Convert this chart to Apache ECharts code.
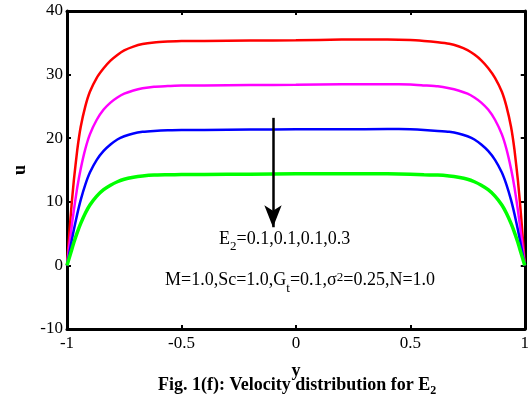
<!DOCTYPE html>
<html>
<head>
<meta charset="utf-8">
<script src="https://cdn.jsdelivr.net/npm/echarts@6/dist/echarts.min.js"></script>
<style>html,body{margin:0;padding:0;background:#fff}#c{width:532px;height:394px}</style>
</head>
<body>
<div id="c"></div>
<script>
var yPos = [-1, -0.99, -0.98, -0.97, -0.955, -0.94, -0.92, -0.9, -0.87, -0.84, -0.81, -0.78, -0.75, -0.71, -0.67, -0.62, -0.56, -0.5, -0.4, -0.2, 0,
            0.2, 0.4, 0.5, 0.56, 0.62, 0.67, 0.71, 0.75, 0.78, 0.81, 0.84, 0.87, 0.9, 0.92, 0.94, 0.955, 0.97, 0.98, 0.99, 1];
var uRed = [0, 5.0, 9.5, 13.4, 18.2, 21.8, 25.0, 27.3, 29.5, 31.0, 32.2, 33.1, 33.8, 34.4, 34.8, 35.05, 35.2, 35.3, 35.3, 35.35, 35.4,
            35.5, 35.5, 35.45, 35.3, 35.1, 34.85, 34.45, 33.85, 33.15, 32.25, 31.05, 29.5, 27.3, 25.0, 21.8, 18.2, 13.4, 9.5, 5.0, 0];
var uMagenta = [0, 3.1, 6.0, 8.7, 12.3, 15.2, 18.3, 20.6, 22.9, 24.5, 25.6, 26.4, 27.0, 27.5, 27.85, 28.1, 28.2, 28.3, 28.3, 28.35, 28.4,
                28.5, 28.5, 28.45, 28.3, 28.15, 27.85, 27.5, 27.0, 26.4, 25.6, 24.5, 22.9, 20.6, 18.3, 15.2, 12.3, 8.7, 6.0, 3.1, 0];
var uBlue = [0, 1.9, 3.8, 5.6, 8.1, 10.3, 12.7, 14.6, 16.6, 18.0, 19.0, 19.8, 20.3, 20.75, 21.0, 21.15, 21.25, 21.3, 21.3, 21.35, 21.4,
             21.4, 21.45, 21.4, 21.3, 21.15, 21.0, 20.75, 20.3, 19.8, 19.0, 18.0, 16.6, 14.6, 12.7, 10.3, 8.1, 5.6, 3.8, 1.9, 0];
var uGreen = [0, 1.2, 2.4, 3.6, 5.2, 6.6, 8.2, 9.5, 10.9, 11.9, 12.6, 13.15, 13.55, 13.85, 14.05, 14.2, 14.25, 14.3, 14.3, 14.35, 14.4,
              14.4, 14.4, 14.35, 14.25, 14.2, 14.05, 13.85, 13.55, 13.15, 12.6, 11.9, 10.9, 9.5, 8.2, 6.6, 5.2, 3.6, 2.4, 1.2, 0];
var xTicks = [-1, -0.5, 0, 0.5, 1];
var yTicks = [-10, 0, 10, 20, 30, 40];
var arrowFrom = [-0.1, 23.2];
var arrowTo = [-0.1, 6.0];

function pairs(v) { return yPos.map(function (x, i) { return [x, v[i]]; }); }
var F = 'Liberation Serif, Times New Roman, serif';
var chart = echarts.init(document.getElementById('c'));
var axisLine = { show: true, onZero: false, lineStyle: { color: '#000', width: 3 } };
var tick = { show: true, inside: true, length: 4, lineStyle: { color: '#000', width: 2 } };
function mkSeries(name, v, color, w, extra) {
  var s = { name: name, type: 'line', data: pairs(v), showSymbol: false, smooth: 0.15,
    lineStyle: { color: color, width: w }, itemStyle: { color: color }, z: 3, animation: false };
  if (extra) for (var k in extra) s[k] = extra[k];
  return s;
}
chart.setOption({
  animation: false,
  grid: { left: 67, right: 5, top: 11, bottom: 65, containLabel: false },
  xAxis: [
    { type: 'value', min: -1, max: 1, interval: 0.5, position: 'bottom',
      axisLine: axisLine, axisTick: tick, splitLine: { show: false },
      axisLabel: { color: '#000', fontFamily: F, fontSize: 17, margin: 6,
        formatter: function (v) { return xTicks.indexOf(v) >= 0 ? String(v) : ''; } },
      name: 'y', nameLocation: 'middle', nameGap: 33,
      nameTextStyle: { color: '#000', fontFamily: F, fontSize: 18, fontWeight: 'bold' } },
    { type: 'value', min: -1, max: 1, interval: 0.5, position: 'top',
      axisLine: axisLine, axisTick: tick, axisLabel: { show: false }, splitLine: { show: false } }
  ],
  yAxis: [
    { type: 'value', min: -10, max: 40, interval: 10, position: 'left',
      axisLine: axisLine, axisTick: tick, splitLine: { show: false },
      axisLabel: { color: '#000', fontFamily: F, fontSize: 17, margin: 4,
        formatter: function (v) { return yTicks.indexOf(v) >= 0 ? String(v) : ''; } },
      name: 'u', nameLocation: 'middle', nameGap: 38, nameRotate: 90,
      nameTextStyle: { color: '#000', fontFamily: F, fontSize: 18, fontWeight: 'bold' } },
    { type: 'value', min: -10, max: 40, interval: 10, position: 'right',
      axisLine: axisLine, axisTick: tick, axisLabel: { show: false }, splitLine: { show: false } }
  ],
  series: [
    mkSeries('E2=0.1 (red)', uRed, '#ff0000', 2.5),
    mkSeries('E2=0.1 (magenta)', uMagenta, '#ff00ff', 2.5),
    mkSeries('E2=0.1 (blue)', uBlue, '#0000ff', 2.5),
    mkSeries('E2=0.3', uGreen, '#00ff00', 3.5, {
      markLine: { silent: true, animation: false, symbol: ['none', 'arrow'], symbolSize: [13, 22],
        label: { show: false },
        lineStyle: { color: '#000', width: 2.5, type: 'solid' },
        data: [[{ coord: arrowFrom }, { coord: arrowTo }]] }
    })
  ],
  graphic: [
    { type: 'text', left: 219, top: 230, style: {
      text: '{n|E}{s|2}{n|=0.1,0.1,0.1,0.3}', fill: '#000',
      rich: { n: { fontFamily: F, fontSize: 18, fill: '#000', verticalAlign: 'top', lineHeight: 20 },
              s: { fontFamily: F, fontSize: 13, fill: '#000', padding: [10, 0, 0, 0], lineHeight: 20, verticalAlign: 'top' } } } },
    { type: 'text', left: 165, top: 271, style: {
      text: '{n|M=1.0,Sc=1.0,G}{s|t}{n|=0.1,σ}{p|2}{n|=0.25,N=1.0}', fill: '#000',
      rich: { n: { fontFamily: F, fontSize: 18, fill: '#000', verticalAlign: 'top', lineHeight: 20 },
              s: { fontFamily: F, fontSize: 13, fill: '#000', padding: [11, 0, 0, 0], lineHeight: 20, verticalAlign: 'top' },
              p: { fontFamily: F, fontSize: 13, fill: '#000', padding: [0, 0, 8, 0], lineHeight: 20, verticalAlign: 'top' } } } },
    { type: 'text', left: 158, top: 376, style: {
      text: '{b|Fig. 1(f): Velocity distribution for E}{s|2}', fill: '#000',
      rich: { b: { fontFamily: F, fontSize: 18, fontWeight: 'bold', fill: '#000' },
              s: { fontFamily: F, fontSize: 12, fontWeight: 'bold', fill: '#000', padding: [12, 0, 0, 0] } } } }
  ]
});
</script>
</body>
</html>
